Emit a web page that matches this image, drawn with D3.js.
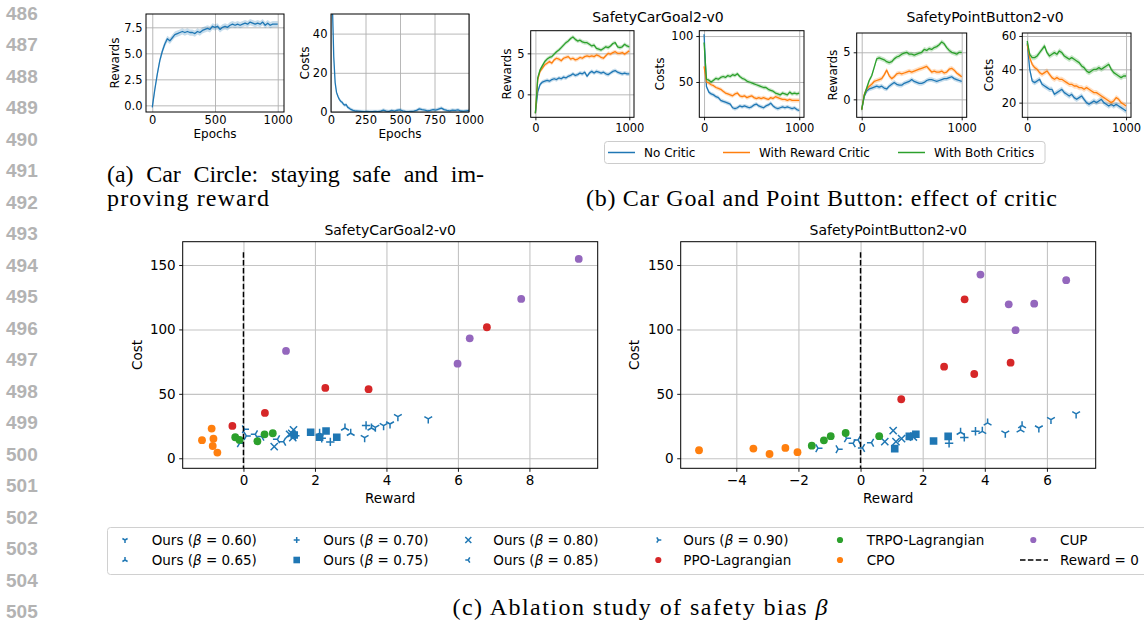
<!DOCTYPE html>
<html><head><meta charset="utf-8">
<script src="https://cdn.jsdelivr.net/npm/d3@7"></script>
<style>
body{margin:0;background:#fff;}
svg{display:block;}
</style></head><body>
<svg id="chart" width="1144" height="623"></svg>
<script>
// ---------------- DATA ----------------
const LINE_NUMBERS = [486,487,488,489,490,491,492,493,494,495,496,497,498,499,500,501,502,503,504,505];

// (a) Car Circle
const EPOCHS_A = [0,20,40,60,80,100,120,140,160,180,200,220,240,260,280,300,320,340,360,380,400,420,440,460,480,500,520,540,560,580,600,620,640,660,680,700,720,740,760,780,800,820,840,860,880,900,920,940,960,980,1000];
const A_REWARD = [-0.2,1.5,3.0,4.3,5.2,5.9,6.4,6.2,6.5,6.8,6.9,7.0,7.1,7.0,7.1,7.0,7.0,6.9,7.1,7.0,7.2,7.3,7.4,7.3,7.6,7.5,7.6,7.3,7.5,7.6,7.5,7.7,7.8,7.7,7.8,7.7,7.8,7.9,7.8,8.0,7.9,7.8,7.9,7.8,8.0,7.7,7.9,7.7,7.8,7.8,7.8];
const EPOCHS_A_COST = [0,10,20,30,40,50,60,70,80,90,100,110,120,140,160,180,200,220,240,260,280,300,320,340,360,380,400,420,440,460,480,500,520,540,560,580,600,620,640,660,680,700,720,740,760,780,800,820,840,860,880,900,920,940,960,980,1000];
const A_COST = [85,55,28,15,10,8,6.5,5.5,5,4,3.5,3.8,2.5,1.5,0.8,0.5,0.4,0.3,0.2,0.3,0.2,0.2,0.3,0.2,0.4,1.0,0.5,0.3,0.8,0.5,0.9,1.1,0.6,0.3,0.2,0.3,0.4,0.8,1.6,1.2,1.0,0.6,0.8,1.2,1.0,1.5,2.0,1.2,0.8,0.6,1.0,0.8,1.1,0.5,0.4,0.6,0.8];
const A_SPREAD = [0.3, 0.9];

// (b) effect of critic
const EPOCHS_B = [0,25,50,75,100,125,150,175,200,225,250,275,300,325,350,375,400,425,450,475,500,525,550,575,600,625,650,675,700,725,750,775,800,825,850,875,900,925,950,975,1000];
const CRITIC_SERIES = ["No Critic","With Reward Critic","With Both Critics"];
const CG_REW_NONE = [-2.3,0.3,1.2,1.5,1.6,1.7,1.6,1.8,1.9,1.8, 2.0,1.9,2.1,2.0,2.2,2.3,2.5,2.3,2.4,2.6, 2.5,2.7,2.2,2.6,2.8,2.6,2.8,2.7,2.6,2.7, 2.5,2.4,2.6,2.8,2.9,2.7,2.6,2.5,2.6,2.5, 2.5];
const CG_REW_REW  = [-2.3,1.8,2.8,3.2,3.6,3.8,4.0,3.8,4.2,4.4, 4.3,4.1,4.4,4.5,4.6,4.3,4.4,4.2,4.3,4.5, 4.4,4.6,4.7,4.6,4.7,4.6,4.8,4.7,4.5,4.4, 4.7,5.0,4.9,5.1,5.2,5.0,5.0,5.1,4.9,5.1, 5.3];
const CG_REW_BOTH = [-2.3,2.0,3.0,3.5,4.0,4.3,4.5,4.6,4.9,5.2, 5.4,5.7,6.0,6.3,6.5,6.8,7.0,6.7,6.5,6.6, 6.4,6.3,6.3,6.1,5.9,6.0,5.6,5.5,5.4,5.6, 5.8,5.7,5.9,6.2,6.3,5.8,5.7,5.8,6.1,5.9, 5.8];
const CG_COST_NONE = [102,45,39,37,36,34,33,30,29,28, 27,26,22,21,22,24,23,24,23,22, 23,25,26,24,23,22,24,25,27,24, 22,21,22,23,22,23,22,21,22,20, 19];
const CG_COST_REW  = [67,50,49,47,46,44,43,42,40,38, 37,36,35,37,38,35,34,35,33,34, 35,33,32,33,32,33,32,31,33,32, 34,33,32,31,31,30,31,30,30,30, 30];
const CG_COST_BOTH = [93,53,52,50,52,54,53,55,56,55, 57,56,58,57,59,56,54,53,51,50, 49,48,47,46,45,44,44,42,41,40, 38,37,36,38,37,36,39,37,38,37, 38];
const PB_REW_NONE = [-1.1,0.3,0.9,1.1,1.2,1.3,1.4,1.3,1.4,1.2, 1.1,1.4,1.6,1.8,1.6,1.5,1.5,1.7,1.8,1.9, 2.1,1.9,1.8,1.7,1.7,1.8,2.0,2.1,2.1,2.0, 1.9,2.0,2.1,2.2,2.2,2.3,2.4,2.2,2.1,2.0, 1.9];
const PB_REW_REW  = [-1.1,0.5,1.1,1.4,1.6,1.9,2.0,2.1,2.2,2.6, 3.1,2.5,2.2,2.4,2.7,2.8,2.7,2.8,2.9,3.0, 2.9,3.0,3.1,3.2,3.3,3.4,3.5,3.2,2.9,3.0, 2.9,2.9,3.0,2.8,2.9,3.2,3.3,3.1,2.8,2.6, 2.4];
const PB_REW_BOTH = [-1.1,0.4,1.2,2.0,2.5,3.4,4.3,4.4,4.3,4.2, 4.0,3.9,4.0,4.3,4.5,4.6,4.8,4.9,5.0,4.8, 4.8,4.7,4.8,4.9,5.0,5.3,5.2,5.4,5.3,5.5, 5.6,5.8,6.1,5.9,5.5,5.2,5.0,4.9,4.8,5.0, 5.0];
const PB_COST_NONE = [56,40,33,32,33,34,31,30,29,28, 28,25,26,27,28,26,25,24,25,23, 22,23,24,22,20,19,20,21,20,21, 22,20,19,18,19,18,19,18,17,16, 15];
const PB_COST_REW  = [55,47,43,41,40,38,37,38,39,37, 35,34,35,34,34,33,32,31,31,30, 30,29,29,28,29,28,27,26,26,25, 24,23,22,21,20,21,23,22,20,19, 18];
const PB_COST_BOTH = [57,49,47,47,48,50,52,54,50,48, 49,50,49,51,50,48,47,46,47,46, 45,44,42,41,39,38,39,40,40,41, 40,41,42,43,40,38,37,36,35,36, 36];
const B_SPREAD = [0.25, 2.2, 0.25, 1.6];

// (c) ablation scatter
const OURS_BETAS = ["0.60","0.65","0.70","0.75","0.80","0.85","0.90"];
const BASELINES = ["PPO-Lagrangian","TRPO-Lagrangian","CPO","CUP"];
// SafetyCarGoal2-v0
const CG_OURS_R = [[3.39,3.69,3.92,4.10,4.32,5.17],[2.13,2.84,3.00,3.58],[1.45,2.19,2.43,3.43],[1.42,1.88,2.13,2.31,2.61],[0.86,1.29,1.35,1.40,1.38],[0.33,0.51,0.95,1.12],[0.03,-0.11,0.08]];
const CG_OURS_C = [[16.0,24.0,25.3,26.6,32.3,30.5],[19.4,23.5,19.4,23.5],[17.5,15.5,12.7,25.5],[18.1,20.2,16.3,21.2,16.3],[9.0,18.6,19.4,22.0,16.0],[18.6,16.8,14.7,12.9],[22.5,11.6,17.3]];
const CG_BASE_R = [[-0.31,0.60,2.29,3.50,6.81],[-0.23,-0.11,0.39,0.59,0.82],[-1.16,-0.89,-0.84,-0.86,-0.73],[1.19,5.99,6.33,7.77,9.38]];
const CG_BASE_C = [[25.1,35.2,54.6,53.6,101.7],[16.3,14.2,13.2,18.6,19.4],[14.0,23.0,15.2,9.5,4.4],[83.3,73.4,93.1,123.7,154.7]];
// SafetyPointButton2-v0
const PB_OURS_R = [[4.66,5.74,6.13,6.94],[3.22,3.92,4.09,5.15,5.20],[2.85,3.34,3.70,1.62],[1.10,1.57,1.78,2.35,2.82],[0.78,1.05,1.14,1.32,1.70],[-0.24,-0.08,0.06,0.35],[-1.37,-0.72,-0.45]];
const PB_OURS_C = [[19.5,23.5,30.0,34.4],[20.2,20.9,27.4,22.0,25.3],[11.6,16.2,21.0,17.0],[7.5,17.0,18.6,13.4,17.0],[12.9,21.4,12.9,15.2,16.5],[11.6,14.2,8.0,12.1],[7.8,7.0,15.5]];
const PB_BASE_R = [[1.31,2.69,3.66,3.35,4.83],[-1.57,-1.18,-0.96,-0.48,0.60],[-5.20,-3.45,-2.93,-2.42,-2.03],[3.86,4.77,5.59,4.99,6.62]];
const PB_BASE_C = [[45.8,71.1,65.4,123.4,74.2],[9.8,13.9,17.1,19.6,17.1],[6.2,7.5,3.3,8.0,4.7],[142.6,119.5,120.0,99.4,138.2]];
const REWARD_ZERO = [0, 160];

// ---------------- DRAWING ----------------
const svg = d3.select("#chart");
svg.append("rect").attr("width",1144).attr("height",623).attr("fill","#fff");
const FONT = "DejaVu Sans";
const C = {blue:"#1f77b4", orange:"#ff7f0e", green:"#2ca02c", red:"#d62728", purple:"#9467bd"};
const SERIES_COLORS = [C.blue, C.orange, C.green];
const BASE_COLORS = [C.red, C.green, C.orange, C.purple];
const OURS_MARKERS = ["tri_down","tri_up","plus","square","x","tri_left","tri_right"];
const MARKER_R = {tri_down:4.5,tri_up:4.5,tri_left:4.5,tri_right:4.5,plus:4.2,x:3.6,square:3.8};
let clipN = 0;

// line numbers
svg.append("g").selectAll("text").data(LINE_NUMBERS).join("text")
  .attr("x",6).attr("y",(d,i)=>19.8+i*31.5)
  .attr("font-family","Liberation Sans").attr("font-weight","bold").attr("font-size",19)
  .attr("fill","#b3b3b3").text(d=>d);

function frame(cfg){
  const x = d3.scaleLinear().domain(cfg.xDomain).range([cfg.left,cfg.right]);
  const y = d3.scaleLinear().domain(cfg.yDomain).range([cfg.bottom,cfg.top]);
  const w = cfg.right-cfg.left, h = cfg.bottom-cfg.top;
  const g = svg.append("g");
  const gridStyle = s => { s.select(".domain").remove(); s.selectAll("line").attr("stroke",cfg.gridColor||"#b0b0b0").attr("stroke-width",cfg.gridWidth||0.9); };
  g.append("g").attr("transform",`translate(0,${cfg.bottom})`)
    .call(d3.axisBottom(x).tickValues(cfg.xTicks).tickSize(-h).tickFormat("")).call(gridStyle);
  g.append("g").attr("transform",`translate(${cfg.left},0)`)
    .call(d3.axisLeft(y).tickValues(cfg.yTicks).tickSize(-w).tickFormat("")).call(gridStyle);
  const id = "clip"+(clipN++);
  svg.append("clipPath").attr("id",id).append("rect").attr("x",cfg.left).attr("y",cfg.top).attr("width",w).attr("height",h);
  const data = g.append("g").attr("clip-path",`url(#${id})`);
  return {x,y,g,data,w,h};
}

function finishAxes(p, cfg){
  const g = p.g;
  g.append("rect").attr("x",cfg.left).attr("y",cfg.top).attr("width",p.w).attr("height",p.h)
    .attr("fill","none").attr("stroke","#000").attr("stroke-width",1);
  const style = s => {
    s.select(".domain").remove();
    s.attr("font-family",FONT).attr("font-size",cfg.fs);
    s.selectAll("text").attr("fill","#000");
    s.selectAll("line").attr("stroke","#000").attr("stroke-width",0.9);
  };
  g.append("g").attr("transform",`translate(0,${cfg.bottom})`)
    .call(d3.axisBottom(p.x).tickValues(cfg.xTicks).tickFormat(cfg.xFmt).tickSize(cfg.tick).tickPadding(cfg.xPad)).call(style);
  g.append("g").attr("transform",`translate(${cfg.left},0)`)
    .call(d3.axisLeft(p.y).tickValues(cfg.yTicks).tickFormat(cfg.yFmt).tickSize(cfg.tick).tickPadding(cfg.yPad)).call(style);
  if(cfg.ylabel){
    g.append("text").attr("transform",`translate(${cfg.ylabelX},${(cfg.top+cfg.bottom)/2}) rotate(-90)`)
      .attr("text-anchor","middle").attr("font-family",FONT).attr("font-size",cfg.lfs).text(cfg.ylabel);
  }
  if(cfg.xlabel){
    g.append("text").attr("x",(cfg.left+cfg.right)/2).attr("y",cfg.xlabelY)
      .attr("text-anchor","middle").attr("font-family",FONT).attr("font-size",cfg.lfs).text(cfg.xlabel);
  }
}

function drawSeries(p, epochs, values, spread, color){
  const pts = epochs.map((e,i)=>({e, v:values[i]}));
  p.data.append("path").datum(pts)
    .attr("d", d3.area().x(d=>p.x(d.e)).y0(d=>p.y(d.v-spread)).y1(d=>p.y(d.v+spread)))
    .attr("fill",color).attr("fill-opacity",0.25).attr("stroke","none");
  p.data.append("path").datum(pts)
    .attr("d", d3.line().x(d=>p.x(d.e)).y(d=>p.y(d.v)))
    .attr("fill","none").attr("stroke",color).attr("stroke-width",1.3).attr("stroke-linejoin","round");
}

const fmtInt = d3.format("d"), fmt1 = d3.format(".1f");

// ----- (a) -----
{
  const cfg = {left:146,right:284,top:14,bottom:112,xDomain:[-50,1050],yDomain:[-0.64,8.78],
    xTicks:[0,500,1000],yTicks:[0,2.5,5,7.5],xFmt:fmtInt,yFmt:fmt1,fs:11.5,lfs:12,tick:0,xPad:3.5,yPad:3.5,
    ylabel:"Rewards",ylabelX:119,xlabel:"Epochs",xlabelY:137.5};
  const p = frame(cfg);
  drawSeries(p, EPOCHS_A, A_REWARD, A_SPREAD[0], C.blue);
  finishAxes(p,cfg);
}
{
  const cfg = {left:331,right:469,top:14,bottom:112,xDomain:[0,1000],yDomain:[0,50],
    xTicks:[0,250,500,750,1000],yTicks:[0,20,40],xFmt:fmtInt,yFmt:fmtInt,fs:11.5,lfs:12,tick:0,xPad:3.5,yPad:3.5,
    ylabel:"Costs",ylabelX:309,xlabel:"Epochs",xlabelY:137.5};
  const p = frame(cfg);
  drawSeries(p, EPOCHS_A_COST, A_COST, A_SPREAD[1], C.blue);
  finishAxes(p,cfg);
}

// ----- (b) -----
const bPanels = [
  {left:530.7,right:634,top:30.7,bottom:117.3,yDomain:[-2.8,7.76],yTicks:[0,5],ylabel:"Rewards",ylabelX:511,series:[CG_REW_NONE,CG_REW_REW,CG_REW_BOTH],spread:B_SPREAD[0]},
  {left:699.3,right:804,top:30.7,bottom:117.3,yDomain:[11.6,105.8],yTicks:[50,100],ylabel:"Costs",ylabelX:664,series:[CG_COST_NONE,CG_COST_REW,CG_COST_BOTH],spread:B_SPREAD[1]},
  {left:856.7,right:966.7,top:33,bottom:117.3,yDomain:[-1.91,7.05],yTicks:[0,5],ylabel:"Rewards",ylabelX:837,series:[PB_REW_NONE,PB_REW_REW,PB_REW_BOTH],spread:B_SPREAD[2]},
  {left:1022.3,right:1131,top:33,bottom:117.3,yDomain:[11.2,61.8],yTicks:[20,40,60],ylabel:"Costs",ylabelX:993,series:[PB_COST_NONE,PB_COST_REW,PB_COST_BOTH],spread:B_SPREAD[3]}
];
bPanels.forEach(b=>{
  const cfg = Object.assign({xDomain:[-50,1050],xTicks:[0,1000],xFmt:fmtInt,yFmt:fmtInt,fs:11.5,lfs:12,tick:3,xPad:3.5,yPad:3}, b);
  const p = frame(cfg);
  b.series.forEach((s,i)=>drawSeries(p, EPOCHS_B, s, b.spread, SERIES_COLORS[i]));
  finishAxes(p,cfg);
});
svg.append("text").attr("x",658).attr("y",22).attr("text-anchor","middle").attr("font-family",FONT).attr("font-size",14).text("SafetyCarGoal2-v0");
svg.append("text").attr("x",985).attr("y",22).attr("text-anchor","middle").attr("font-family",FONT).attr("font-size",14).text("SafetyPointButton2-v0");
// legend (b)
{
  const lg = svg.append("g");
  lg.append("rect").attr("x",604.5).attr("y",141.5).attr("width",440.5).attr("height",22).attr("rx",3)
    .attr("fill","#fff").attr("stroke","#cccccc").attr("stroke-width",1);
  const lx = [608,723,898];
  CRITIC_SERIES.forEach((name,i)=>{
    lg.append("line").attr("x1",lx[i]).attr("x2",lx[i]+27).attr("y1",152.5).attr("y2",152.5).attr("stroke",SERIES_COLORS[i]).attr("stroke-width",1.5);
    lg.append("text").attr("x",lx[i]+36).attr("y",157).attr("font-family",FONT).attr("font-size",12).text(name);
  });
}

// ----- (c) scatter -----
function markerPath(type, r){
  const a = r*0.866, b = r*0.5;
  switch(type){
    case "tri_down": return `M0,0L0,${r}M0,0L${-a},${-b}M0,0L${a},${-b}`;
    case "tri_up": return `M0,0L0,${-r}M0,0L${-a},${b}M0,0L${a},${b}`;
    case "tri_left": return `M0,0L${-r},0M0,0L${b},${-a}M0,0L${b},${a}`;
    case "tri_right": return `M0,0L${r},0M0,0L${-b},${-a}M0,0L${-b},${a}`;
    case "plus": return `M${-r},0L${r},0M0,${-r}L0,${r}`;
    case "x": return `M${-r},${-r}L${r},${r}M${-r},${r}L${r},${-r}`;
    case "square": return `M${-r},${-r}h${2*r}v${2*r}h${-2*r}Z`;
  }
}
function drawMarker(g, type, cx, cy, r, color){
  const path = g.append("path").attr("d",markerPath(type,r)).attr("transform",`translate(${cx},${cy})`);
  if(type==="square") path.attr("fill",color).attr("stroke","none");
  else path.attr("fill","none").attr("stroke",color).attr("stroke-width",1.5);
}

function scatterPanel(b){
  const cfg = Object.assign({top:241.7,bottom:468.3,yDomain:[-7.8,168.1],yTicks:[0,50,100,150],
    xFmt:fmtInt,yFmt:fmtInt,fs:13.5,lfs:13.5,tick:3.5,xPad:4,yPad:3.5,ylabel:"Cost",xlabel:"Reward",xlabelY:503,
    gridColor:"#c4c4c4",gridWidth:1.1}, b);
  const p = frame(cfg);
  b.oursR.forEach((arr,k)=>arr.forEach((r,i)=>drawMarker(p.data, OURS_MARKERS[k], p.x(r), p.y(b.oursC[k][i]), MARKER_R[OURS_MARKERS[k]], C.blue)));
  b.baseR.forEach((arr,k)=>arr.forEach((r,i)=>p.data.append("circle").attr("cx",p.x(r)).attr("cy",p.y(b.baseC[k][i])).attr("r",3.9).attr("fill",BASE_COLORS[k])));
  p.data.append("line").attr("x1",p.x(REWARD_ZERO[0])).attr("x2",p.x(REWARD_ZERO[0]))
    .attr("y1",p.y(REWARD_ZERO[1])).attr("y2",cfg.bottom).attr("stroke","#000").attr("stroke-width",1.5).attr("stroke-dasharray","5.5,2.4");
  finishAxes(p,cfg);
  svg.append("text").attr("x",(cfg.left+cfg.right)/2).attr("y",235).attr("text-anchor","middle")
    .attr("font-family",FONT).attr("font-size",14).text(b.title);
}
scatterPanel({left:182.7,right:597.7,xDomain:[-1.70,9.91],xTicks:[0,2,4,6,8],ylabelX:142,title:"SafetyCarGoal2-v0",
  oursR:CG_OURS_R,oursC:CG_OURS_C,baseR:CG_BASE_R,baseC:CG_BASE_C});
scatterPanel({left:680.7,right:1095.7,xDomain:[-5.79,7.57],xTicks:[-4,-2,0,2,4,6],ylabelX:639,title:"SafetyPointButton2-v0",
  oursR:PB_OURS_R,oursC:PB_OURS_C,baseR:PB_BASE_R,baseC:PB_BASE_C});

// legend (c)
{
  const lg = svg.append("g");
  lg.append("rect").attr("x",107.5).attr("y",527.5).attr("width",1050).attr("height",47).attr("rx",3)
    .attr("fill","#fff").attr("stroke","#d0d0d0").attr("stroke-width",1);
  const colM = [125,296.7,468.3,658.3,840,1033.3], colT = [151.7,323.3,493.3,683.3,866.7,1060];
  const rowY = [540,560];
  const entries = [];
  OURS_BETAS.forEach((b,k)=>entries.push({kind:"ours",k,beta:b}));
  BASELINES.forEach((n,k)=>entries.push({kind:"base",k,name:n}));
  entries.push({kind:"line",name:"Reward = 0"});
  entries.forEach((e,i)=>{
    const col = Math.floor(i/2), row = i%2;
    const mx = colM[col], y = rowY[row];
    if(e.kind==="ours") drawMarker(lg, OURS_MARKERS[e.k], mx, y, OURS_MARKERS[e.k]==="square"?3.3:3.0, C.blue);
    else if(e.kind==="base") lg.append("circle").attr("cx",mx).attr("cy",y).attr("r",3.1).attr("fill",BASE_COLORS[e.k]);
    else lg.append("line").attr("x1",1020).attr("x2",1048).attr("y1",y).attr("y2",y).attr("stroke","#000").attr("stroke-width",1.5).attr("stroke-dasharray","5.5,2.4");
    const t = lg.append("text").attr("x",colT[col]).attr("y",y+5).attr("font-family",FONT).attr("font-size",13.5);
    if(e.kind==="ours"){
      t.append("tspan").text("Ours (");
      t.append("tspan").attr("font-style","italic").text("β");
      t.append("tspan").text(" = "+e.beta+")");
    } else t.text(e.name);
  });
}

// captions
const SERIF = "Liberation Serif";
function caption(x,y,len,anchor,ws){
  const t = svg.append("text").attr("x",x).attr("y",y).attr("font-family",SERIF).attr("font-size",24).attr("fill","#000");
  if(anchor) t.attr("text-anchor",anchor);
  if(ws) t.attr("word-spacing",ws);
  if(len) t.attr("textLength",len).attr("lengthAdjust","spacing");
  return t;
}
caption(107,182,377,null,7).text("(a) Car Circle: staying safe and im-");
caption(107,206,162).text("proving reward");
caption(821.5,206,471,"middle").text("(b) Car Goal and Point Button: effect of critic");
{
  const t = caption(640,615,375,"middle");
  t.append("tspan").text("(c) Ablation study of safety bias ");
  t.append("tspan").attr("font-style","italic").text("β");
}
</script></body></html>
